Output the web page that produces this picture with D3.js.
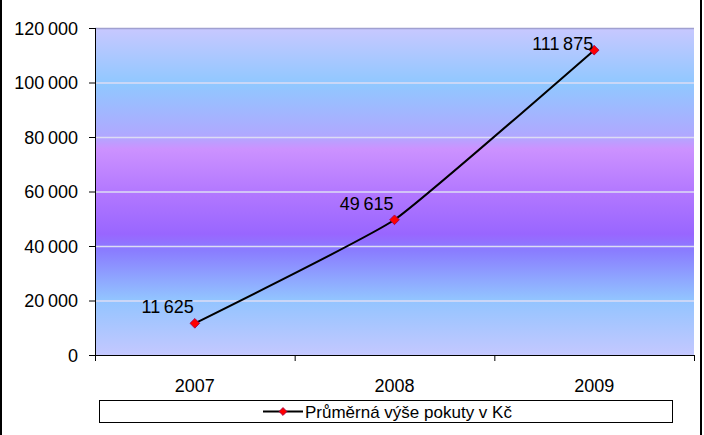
<!DOCTYPE html>
<html>
<head>
<meta charset="utf-8">
<script src="https://cdn.jsdelivr.net/npm/d3@7"></script>
<style>
  body { margin: 0; background: #fff; }
  text { font-family: "Liberation Sans", Arial, sans-serif; fill: #000; }
</style>
</head>
<body>
<div id="chart"></div>
<script>
// data
var years = ["2007", "2008", "2009"];
var fines = [11625, 49615, 111875];
var yTicks = [0, 20000, 40000, 60000, 80000, 100000, 120000];
var seriesName = "Průměrná výše pokuty v Kč";

var width = 704, height = 435;
var margin = {top: 28, left: 95, right: 10, bottom: 80};
var plotW = 694 - margin.left;
var plotH = 355 - margin.top;

var svg = d3.select("#chart").append("svg")
  .attr("width", width)
  .attr("height", height);

// outer frame (only sides visible)
svg.append("line").attr("x1", 1).attr("x2", 1).attr("y1", 0).attr("y2", height)
  .attr("stroke", "#000").attr("stroke-width", 2);
svg.append("line").attr("x1", 701).attr("x2", 701).attr("y1", 0).attr("y2", height)
  .attr("stroke", "#000").attr("stroke-width", 2);

// background gradient
var grad = svg.append("defs").append("linearGradient")
  .attr("id", "bg").attr("x1", 0).attr("y1", 0).attr("x2", 0).attr("y2", 1);
[[0, "#c8c8ff"], [0.17, "#90c8ff"], [0.33, "#b0a8ff"], [0.37, "#cc92ff"],
 [0.5, "#b378ff"], [0.63, "#9966ff"], [0.68, "#8a7cff"], [0.83, "#92c4ff"], [1, "#c4c8ff"]]
  .forEach(function(s) {
    grad.append("stop").attr("offset", s[0]).attr("stop-color", s[1]);
  });

var g = svg.append("g")
  .attr("transform", "translate(" + margin.left + "," + margin.top + ")");

g.append("rect")
  .attr("width", plotW).attr("height", plotH)
  .attr("fill", "url(#bg)");

var y = d3.scaleLinear().domain([0, 120000]).range([plotH, 0]);
var x = d3.scaleBand().domain(years).range([0, plotW]);

// gridlines
g.selectAll(".grid").data(yTicks.slice(1))
  .enter().append("line")
  .attr("x1", 0).attr("x2", plotW)
  .attr("y1", function(d) { return y(d) + 0.5; })
  .attr("y2", function(d) { return y(d) + 0.5; })
  .attr("stroke", function(d) { return d == 120000 ? "#a0a0d0" : "#dcdcf4"; })
  .attr("stroke-width", 1.5);

// y axis
var fmt = function(d) { return d3.format(",")(d).replace(/,/g, "\u2009"); };
var yAxis = d3.axisLeft(y).tickValues(yTicks).tickSize(6).tickPadding(11)
  .tickFormat(fmt);
var ya = g.append("g").call(yAxis);
ya.select(".domain").attr("stroke", "#000").attr("d", "M0.5," + plotH + "V0");
ya.selectAll("text").style("font-size", "18px").attr("dy", "0.35em");

// x axis with ticks at category boundaries
var xa = g.append("g").attr("transform", "translate(0," + plotH + ")");
xa.append("line").attr("x1", 0).attr("x2", plotW).attr("y1", 0.5).attr("y2", 0.5)
  .attr("stroke", "#000");
var bounds = years.map(function(d) { return x(d); }).concat([plotW]);
xa.selectAll(".tk").data(bounds).enter().append("line")
  .attr("x1", function(d) { return d + 0.5; }).attr("x2", function(d) { return d + 0.5; })
  .attr("y1", 0).attr("y2", 6).attr("stroke", "#000");
xa.selectAll(".lbl").data(years).enter().append("text")
  .attr("x", function(d) { return x(d) + x.bandwidth() / 2; })
  .attr("y", 37)
  .attr("text-anchor", "middle")
  .style("font-size", "18px")
  .text(function(d) { return d; });

// line
var pts = years.map(function(d, i) { return [x(d) + x.bandwidth() / 2, y(fines[i])]; });
g.append("path")
  .attr("d", d3.line().curve(d3.curveCardinal.tension(0.65))(pts))
  .attr("fill", "none")
  .attr("stroke", "#000")
  .attr("stroke-width", 2);

var diamond = d3.symbol().type(d3.symbolDiamond2).size(60);
g.selectAll(".mk").data(pts).enter().append("path")
  .attr("d", diamond)
  .attr("transform", function(d) { return "translate(" + d[0] + "," + d[1] + ")"; })
  .attr("fill", "#ff0000")
  .attr("stroke", "#99004d")
  .attr("stroke-width", 0.8);

// data labels
g.selectAll(".dl").data(pts).enter().append("text")
  .attr("x", function(d) { return d[0] - 1; })
  .attr("y", function(d) { return Math.max(d[1] - 10, 22); })
  .attr("text-anchor", "end")
  .style("font-size", "18px")
  .text(function(d, i) { return fmt(fines[i]); });

// legend
var leg = svg.append("g");
leg.append("rect")
  .attr("x", 99.5).attr("y", 400.5).attr("width", 573).attr("height", 22)
  .attr("fill", "#fff").attr("stroke", "#000");
leg.append("line")
  .attr("x1", 263).attr("x2", 303).attr("y1", 411.5).attr("y2", 411.5)
  .attr("stroke", "#000").attr("stroke-width", 2);
leg.append("path")
  .attr("d", d3.symbol().type(d3.symbolDiamond2).size(40))
  .attr("transform", "translate(283,411.5)")
  .attr("fill", "#ff0000").attr("stroke", "#99004d").attr("stroke-width", 0.8);
leg.append("text")
  .attr("x", 305).attr("y", 417.5)
  .style("font-size", "17px")
  .text(seriesName);
</script>
</body>
</html>
